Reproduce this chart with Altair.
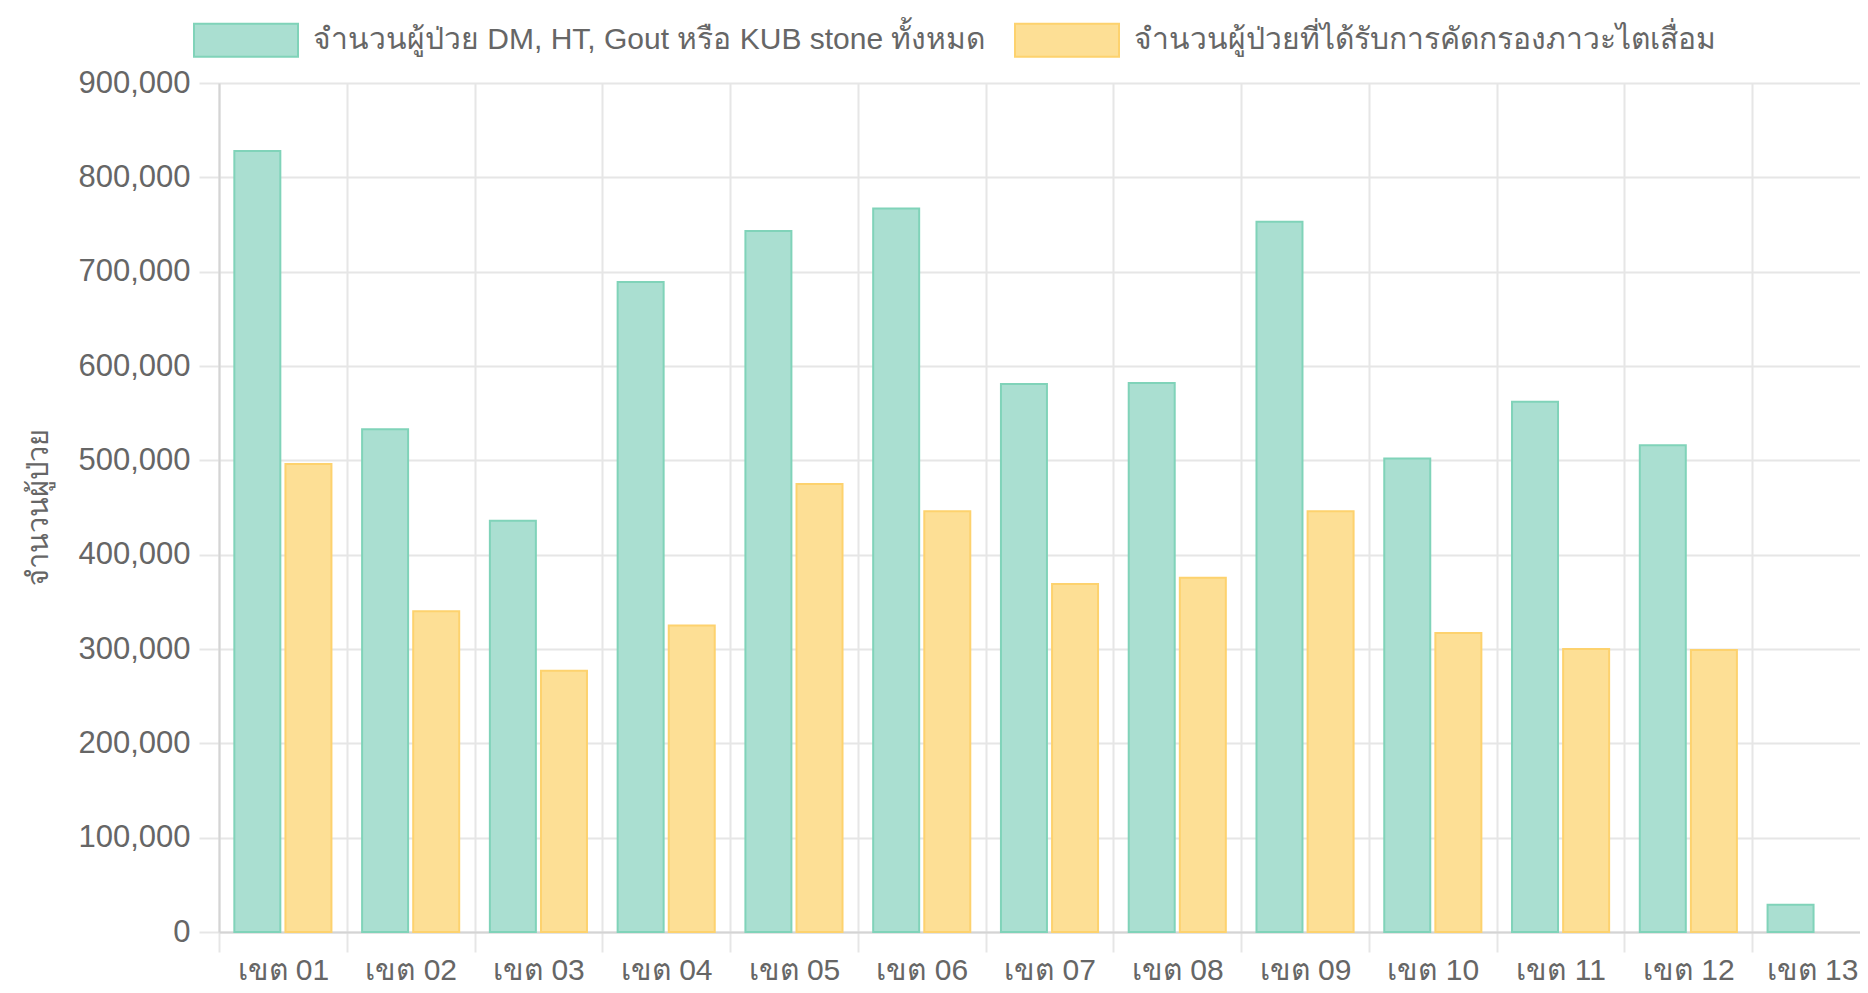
import altair as alt
import pandas as pd

categories = ["เขต 01", "เขต 02", "เขต 03", "เขต 04", "เขต 05", "เขต 06", "เขต 07",
              "เขต 08", "เขต 09", "เขต 10", "เขต 11", "เขต 12", "เขต 13"]
total_patients = [828000, 533000, 436000, 689000, 743000, 767000, 581000,
                  582000, 753000, 502000, 562000, 516000, 29000]
screened_patients = [496000, 340000, 277000, 325000, 475000, 446000, 369000,
                     375500, 446000, 317000, 300000, 299000, None]
series_names = ["จำนวนผู้ป่วย DM, HT, Gout หรือ KUB stone ทั้งหมด",
                "จำนวนผู้ป่วยที่ได้รับการคัดกรองภาวะไตเสื่อม"]
fill_colors = ["#aadfd1", "#fddf95"]
stroke_colors = ["#80d3b9", "#fdd26e"]
y_ticks = [0, 100000, 200000, 300000, 400000, 500000, 600000, 700000, 800000, 900000]

rows = []
for cat, a, b in zip(categories, total_patients, screened_patients):
    rows.append({"category": cat, "series": series_names[0], "value": a})
    if b is not None:
        rows.append({"category": cat, "series": series_names[1], "value": b})
df = pd.DataFrame(rows)

FONT = "Liberation Sans"
TEXT = "#666666"
GRID = "#e6e6e6"

last_label_shift = {"condition": {"test": "datum.value === '" + categories[-1] + "'", "value": -4},
                    "value": 0}

chart = alt.Chart(df).mark_bar(strokeWidth=2).encode(
    x=alt.X("category:N", sort=categories,
            scale=alt.Scale(domain=categories, paddingInner=0, paddingOuter=0,
                            range=[0, 1661]),
            axis=alt.Axis(title=None, labelAngle=0, tickBand="extent", grid=True,
                          gridColor=GRID, gridWidth=2, tickColor=GRID, tickWidth=2,
                          tickSize=20, domainColor="#d4d4d4", domainWidth=2,
                          labelFontSize=30, labelColor=TEXT, labelFont=FONT,
                          labelPadding=3, labelOffset=last_label_shift)),
    xOffset=alt.XOffset("series:N", sort=series_names,
                        scale=alt.Scale(domain=series_names, paddingInner=0.1, paddingOuter=0.3)),
    y=alt.Y("value:Q", scale=alt.Scale(domain=[0, 900000], nice=False),
            axis=alt.Axis(title="จำนวนผู้ป่วย", values=y_ticks, format=",d",
                          grid=True, gridColor=GRID, gridWidth=2, tickColor=GRID,
                          tickWidth=2, tickSize=20, domainColor="#d4d4d4", domainWidth=2,
                          labelFontSize=31, labelColor=TEXT, labelFont=FONT, labelPadding=9,
                          titleFontSize=29, titleColor=TEXT, titleFont=FONT,
                          titleFontWeight="normal", titleAngle=-90, titleAlign="center",
                          titleBaseline="middle", titleX=-181, titleY=424)),
    fill=alt.Fill("series:N", sort=series_names,
                  scale=alt.Scale(domain=series_names, range=fill_colors),
                  legend=alt.Legend(title=None)),
    stroke=alt.Stroke("series:N", sort=series_names,
                      scale=alt.Scale(domain=series_names, range=stroke_colors),
                      legend=alt.Legend(title=None)),
).properties(
    width=1641,
    height=849,
    autosize=alt.AutoSizeParams(type="none"),
    padding={"left": 211, "top": 75, "right": 0, "bottom": 53},
).configure_view(
    stroke=None
).configure_legend(
    orient="none",
    direction="horizontal",
    legendX=-26,
    legendY=-96,
    padding=0,
    symbolType="M-1,-0.317H1V0.317H-1Z",
    symbolSize=10816,
    symbolStrokeWidth=2,
    symbolOpacity=1,
    labelFontSize=30,
    labelFont=FONT,
    labelColor=TEXT,
    labelLimit=0,
    labelOffset=14,
    columnPadding=25,
)

chart.save("out.html", embed_options={"renderer": "svg", "actions": False})
